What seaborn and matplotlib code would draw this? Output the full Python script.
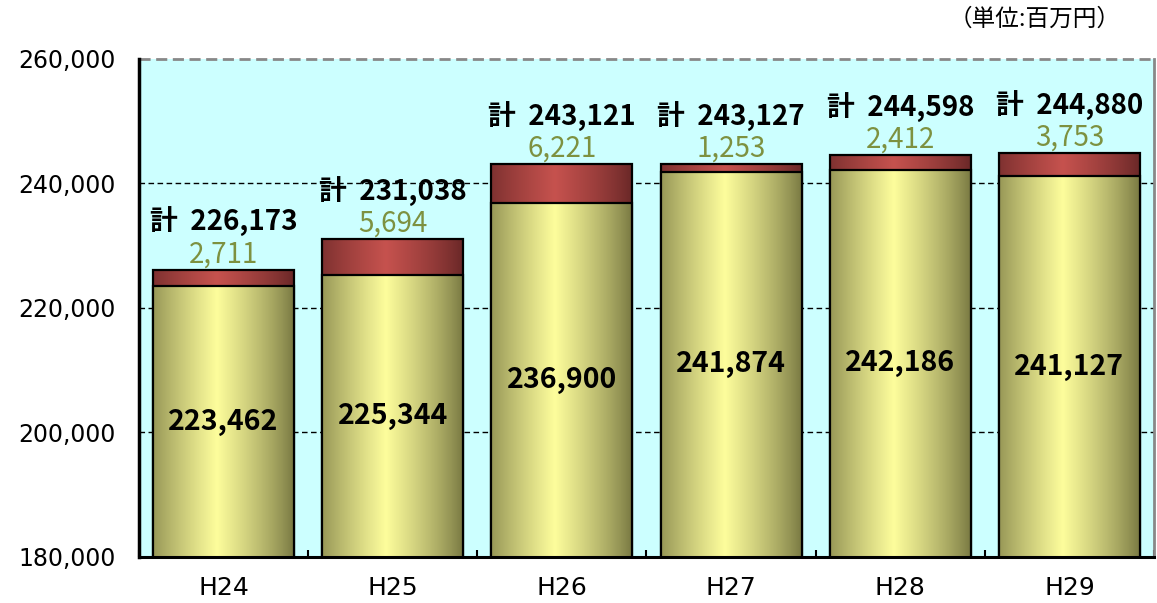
import numpy as np
import pandas as pd
import seaborn as sns
import matplotlib.pyplot as plt
from matplotlib.colors import LinearSegmentedColormap
from matplotlib.ticker import FuncFormatter, MultipleLocator

years = ['H24', 'H25', 'H26', 'H27', 'H28', 'H29']
base_vals = [223462, 225344, 236900, 241874, 242186, 241127]
extra_vals = [2711, 5694, 6221, 1253, 2412, 3753]
total_vals = [226173, 231038, 243121, 243127, 244598, 244880]

df = pd.DataFrame({'year': years, 'base': base_vals, 'extra': extra_vals, 'total': total_vals})

sns.set_theme(style='white')
plt.rcParams['font.family'] = ['Noto Sans CJK JP', 'DejaVu Sans']

fig, ax = plt.subplots(figsize=(11.57, 6.03), dpi=100)
fig.subplots_adjust(left=0.1201, right=0.9974, bottom=0.0763, top=0.9022)
ax.set_facecolor('#ccffff')

bw = 0.834
sns.barplot(data=df, x='year', y='total', color='#c0504d', width=bw, ax=ax)
sns.barplot(data=df, x='year', y='base', color='#ffff99', width=bw, ax=ax)

ylo, yhi = 180000, 260000
ax.set_ylim(ylo, yhi)
ax.set_xlim(-0.5, 5.5)

# horizontal cylinder-like shading
xs = np.linspace(0, 1, 256)
shade = np.clip(1 - np.abs(xs - 0.45) / 0.55, 0, 1) ** 0.8
yellow = LinearSegmentedColormap.from_list('yel', ['#74743f', '#fdfd9c'])
red = LinearSegmentedColormap.from_list('red', ['#662626', '#c6524e'])

patches = list(ax.patches)
for i, p in enumerate(patches):
    cmap = red if i < 6 else yellow
    z = 2 if i < 6 else 2.4
    x0 = p.get_x()
    w = p.get_width()
    im = ax.imshow(shade[np.newaxis, :], cmap=cmap, aspect='auto',
                   extent=[x0, x0 + w, ylo, p.get_y() + p.get_height()],
                   zorder=z, vmin=0, vmax=1, interpolation='bilinear')
    im.set_clip_path(p)
    p.set_facecolor('none')
    p.set_edgecolor('black')
    p.set_linewidth(1.6)
    p.set_zorder(z + 0.1)

ax.set_ylim(ylo, yhi)
ax.set_xlim(-0.5, 5.5)

for yv in [200000, 220000, 240000]:
    ax.axhline(yv, color='black', lw=1, ls=(0, (4, 2.5)), zorder=1)
ax.axhline(yhi, color='#888888', lw=2, ls=(0, (4, 2)), zorder=1, clip_on=False)

for i in range(len(years)):
    top = total_vals[i]
    ax.annotate(f'{extra_vals[i]:,}', (i, top), xytext=(0, 11), textcoords='offset points',
                ha='center', va='center', fontsize=20, color='#7d9140', zorder=5)
    ax.annotate(f'計  {total_vals[i]:,}', (i, top), xytext=(0, 34), textcoords='offset points',
                ha='center', va='center', fontsize=20, fontweight='bold', color='black', zorder=5)
    ax.text(i, (ylo + base_vals[i]) / 2, f'{base_vals[i]:,}', ha='center', va='center',
            fontsize=20.5, fontweight='bold', color='black', zorder=5)

ax.yaxis.set_major_locator(MultipleLocator(20000))
ax.yaxis.set_major_formatter(FuncFormatter(lambda v, _: f'{int(v):,}'))
ax.tick_params(axis='y', length=0, pad=17, labelsize=17, labelcolor='black')
ax.tick_params(axis='x', which='major', length=0, pad=14, labelsize=18, labelcolor='black')
for lab in ax.get_yticklabels() + ax.get_xticklabels():
    lab.set_family('DejaVu Sans')
ax.set_xticks(np.arange(-0.5, 6, 1), minor=True)
ax.tick_params(axis='x', which='minor', direction='in', length=5, width=1.5, color='black', bottom=True)
ax.set_xlabel('')
ax.set_ylabel('')

ax.spines['top'].set_visible(False)
ax.spines['left'].set_color('black')
ax.spines['left'].set_linewidth(2.5)
ax.spines['bottom'].set_color('black')
ax.spines['bottom'].set_linewidth(2.2)
ax.spines['right'].set_color('#888888')
ax.spines['right'].set_linewidth(2)

fig.text(0.8945, 0.968, '（単位:百万円）', ha='center', va='center', fontsize=17, color='black')

fig.savefig('out.png', dpi=100)
